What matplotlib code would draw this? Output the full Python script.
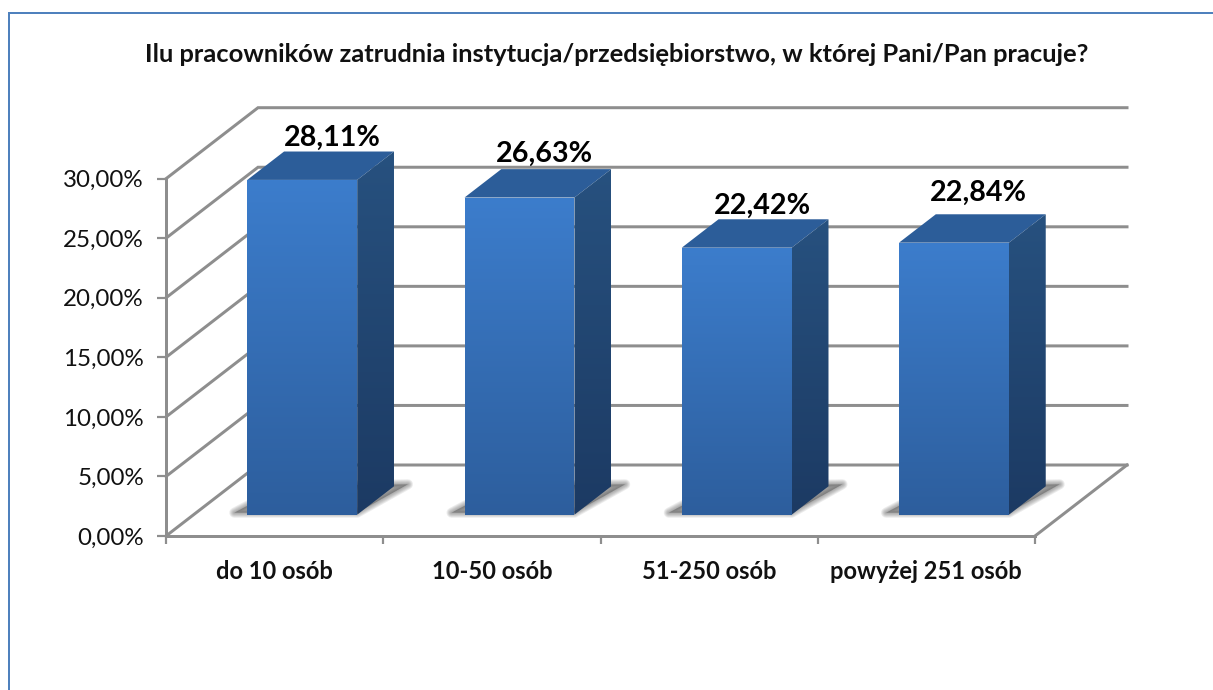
import numpy as np
import matplotlib
matplotlib.use("Agg")
import matplotlib.pyplot as plt
from matplotlib.lines import Line2D
from matplotlib.patches import Polygon

categories = ["do 10 osób", "10-50 osób", "51-250 osób", "powyżej 251 osób"]
values = [28.11, 26.63, 22.42, 22.84]
value_labels = ["28,11%", "26,63%", "22,42%", "22,84%"]
y_ticks = [0, 5, 10, 15, 20, 25, 30]
y_tick_labels = ["0,00%", "5,00%", "10,00%", "15,00%", "20,00%", "25,00%", "30,00%"]
title = "Ilu pracowników zatrudnia instytucja/przedsiębiorstwo, w której Pani/Pan pracuje?"

W, H = 1213, 690
plt.rcParams["font.family"] = ["Lato", "DejaVu Sans"]
fig = plt.figure(figsize=(W / 100, H / 100), dpi=100)
px = 72 / 100
ax = fig.add_axes([166 / W, (H - 536) / H, 869 / W, 357.3 / H])
ax.set_xlim(0, 4)
ax.set_ylim(0, 30)

GRAY = "#8E8E8E"
UNIT_X = 869 / 4       # pixels per category
UNIT_Y = 357.3 / 30    # pixels per value unit
DEPTH_X = 92 / UNIT_X
DEPTH_Y = 71 / UNIT_Y
BAR_W = 0.506
Z0, Z1 = 0.30, 0.70


def proj(x, y, z):
    return x + z * DEPTH_X, y + z * DEPTH_Y


# chart frame
for xs, ys in (([9, 9], [H, 13]), ([9, W], [13, 13])):
    fig.add_artist(Line2D([x / W for x in xs], [1 - y / H for y in ys],
                          color="#4F81BD", lw=2 * px))

# axes
for s in ("top", "right"):
    ax.spines[s].set_visible(False)
for s in ("left", "bottom"):
    ax.spines[s].set_color(GRAY)
    ax.spines[s].set_linewidth(3 * px)
ax.set_yticks(y_ticks, y_tick_labels)
ax.set_xticks(range(5), [""] * 5)
ax.set_xticks(np.arange(4) + 0.5, categories, minor=True)
ax.tick_params(axis="y", length=9 * px, width=2.2 * px, color=GRAY,
               labelsize=17.4, pad=13 * px, labelcolor="#111111")
ax.tick_params(axis="x", which="major", length=8 * px, width=2.2 * px, color=GRAY)
ax.tick_params(axis="x", which="minor", length=0, labelsize=17.0, pad=24 * px)
for t in ax.get_xticklabels(minor=True):
    t.set_fontweight("bold")
    t.set_color("#111111")

# walls and floor
for v in y_ticks:
    p0 = proj(0, v, 0)
    p1 = proj(0, v, 1)
    ax.plot([p0[0], p1[0], proj(4, v, 1)[0]], [p0[1], p1[1], p1[1]],
            color=GRAY, lw=3 * px, clip_on=False, zorder=1, solid_joinstyle="miter")
a, b = proj(4, 0, 0), proj(4, 0, 1)
ax.plot([a[0], b[0]], [a[1], b[1]], color=GRAY, lw=3 * px, clip_on=False, zorder=1)


def gradient_face(pts, top_col, bot_col, zorder):
    pts = np.array(pts)
    c0 = np.array(matplotlib.colors.to_rgb(top_col))
    c1 = np.array(matplotlib.colors.to_rgb(bot_col))
    t = np.linspace(0, 1, 256)[:, None, None]
    img = c0[None, None, :] * (1 - t) + c1[None, None, :] * t
    extent = [pts[:, 0].min(), pts[:, 0].max(), pts[:, 1].min(), pts[:, 1].max()]
    im = ax.imshow(img, extent=extent, origin="upper", aspect="auto",
                   zorder=zorder, interpolation="bilinear")
    im.set_clip_box(fig.bbox)
    im.set_clip_path(Polygon(pts, transform=ax.transData))


for i, v in enumerate(values):
    x0 = i + 0.5 - BAR_W / 2
    x1 = i + 0.5 + BAR_W / 2
    # soft floor shadow: the bar's footprint, stretched sideways, drawn as stacked strokes
    f0 = proj(x0, 0, Z0)
    f1 = proj(x1, 0, Z0)
    f2 = proj(x1, 0, Z1)
    f3 = proj(x0, 0, Z1)
    inset = 2 / UNIT_Y
    shadow = [(f0[0] - 13 / UNIT_X, f0[1] + inset), (f1[0], f1[1] + inset),
              (f2[0] + 14 / UNIT_X, f2[1] + inset), (f3[0], f3[1])]
    for lw in np.arange(10, 0, -2):
        ax.add_patch(Polygon(shadow, closed=True, facecolor="#444444", edgecolor="#444444",
                             lw=lw * px, alpha=0.10, zorder=2, joinstyle="round",
                             clip_on=False))
    # top
    ax.add_patch(Polygon([proj(x0, v, Z0), proj(x1, v, Z0), proj(x1, v, Z1), proj(x0, v, Z1)],
                         closed=True, facecolor="#2C5D99", edgecolor="none", zorder=4,
                         clip_on=False))
    # side
    gradient_face([proj(x1, 0, Z0), proj(x1, 0, Z1), proj(x1, v, Z1), proj(x1, v, Z0)],
                  "#27517F", "#1C3A63", 4)
    # front
    gradient_face([proj(x0, 0, Z0), proj(x1, 0, Z0), proj(x1, v, Z0), proj(x0, v, Z0)],
                  "#3C7DCC", "#2D5E9D", 5)

# data labels
label_dx = [12, 7, 7, 6]
label_dy = [14, 15, 13, 21]
for i, (v, lab) in enumerate(zip(values, value_labels)):
    tx, ty = proj(i + 0.5, v, Z1)
    tx -= (Z1 - (Z0 + Z1) / 2) * DEPTH_X
    ax.annotate(lab, (tx, ty), xytext=(label_dx[i] * px, label_dy[i] * px),
                textcoords="offset points", ha="center", va="center",
                fontsize=20.6, fontweight="bold", color="black", zorder=6,
                annotation_clip=False)

ax.set_xlim(0, 4)
ax.set_ylim(0, 30)
fig.text(616.5 / W, 1 - 55 / H, title, ha="center", va="center",
         fontsize=18.35, fontweight="bold", color="#111111")
fig.savefig("out.png", dpi=100, facecolor="white")
